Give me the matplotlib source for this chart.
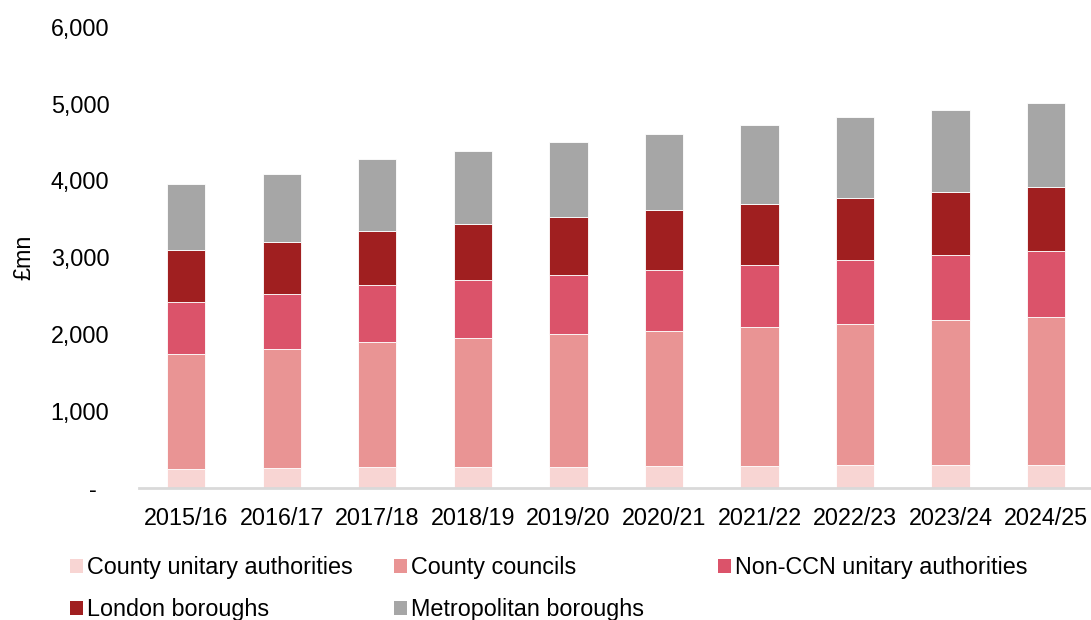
import matplotlib.pyplot as plt
import numpy as np
from matplotlib.patches import Patch
from matplotlib.ticker import FuncFormatter

plt.rcParams['font.family'] = ['Liberation Sans', 'DejaVu Sans']

# Funding by council type, £mn
years = ['2015/16', '2016/17', '2017/18', '2018/19', '2019/20',
         '2020/21', '2021/22', '2022/23', '2023/24', '2024/25']
county_unitary = [247, 256, 269, 273, 273, 286, 286, 295, 299, 303]
county_councils = [1497, 1549, 1627, 1675, 1727, 1757, 1805, 1835, 1883, 1918]
non_ccn_unitary = [675, 714, 740, 753, 766, 792, 814, 831, 844, 857]
london_boroughs = [672, 680, 706, 731, 758, 775, 787, 814, 822, 840]
metropolitan = [861, 888, 931, 954, 973, 1000, 1026, 1047, 1070, 1086]

series_names = ['County unitary authorities', 'County councils',
                'Non-CCN unitary authorities', 'London boroughs',
                'Metropolitan boroughs']
colors = ['#f8d5d3', '#e99494', '#db536a', '#a01f20', '#a6a6a6']

FS = 16.8

fig = plt.figure(figsize=(10.91, 6.2), dpi=100)
ax = fig.add_axes([0.127, 0.213, 0.873, 0.744])

x = np.arange(len(years))
bottom = np.zeros(len(years))
for vals, col in zip([county_unitary, county_councils, non_ccn_unitary,
                      london_boroughs, metropolitan], colors):
    ax.bar(x, vals, width=0.4, bottom=bottom, color=col,
           edgecolor='white', linewidth=0.6)
    bottom += np.array(vals)

ax.set_xlim(-0.5, 9.47)
ax.set_ylim(0, 6000)
ax.set_yticks(range(0, 6001, 1000))
ax.yaxis.set_major_formatter(FuncFormatter(
    lambda v, p: '-  ' if v == 0 else f'{int(v):,}'))
ax.set_xticks(x)
ax.set_xticklabels(years)
ax.tick_params(axis='both', length=0, labelsize=FS, colors='black')
ax.tick_params(axis='y', pad=21)
ax.tick_params(axis='x', pad=14)

for side in ['top', 'right', 'left']:
    ax.spines[side].set_visible(False)
ax.spines['bottom'].set_color('#d9d9d9')
ax.spines['bottom'].set_linewidth(2)

ax.set_ylabel('£mn', fontsize=FS)
ax.yaxis.set_label_coords(-0.108, 0.50)

# Legend laid out in fixed-width columns, two rows
legend_cols = [(0.064, [0, 3]), (0.361, [1, 4]), (0.658, [2])]
for xpos, idxs in legend_cols:
    handles = [Patch(facecolor=colors[i], label=series_names[i]) for i in idxs]
    fig.legend(handles=handles, loc='upper left', bbox_to_anchor=(xpos, 0.103),
               frameon=False, fontsize=FS, handlelength=0.55,
               handleheight=0.55, handletextpad=0.2, labelspacing=0.8,
               borderpad=0, borderaxespad=0)

fig.savefig('out.png', dpi=100)
